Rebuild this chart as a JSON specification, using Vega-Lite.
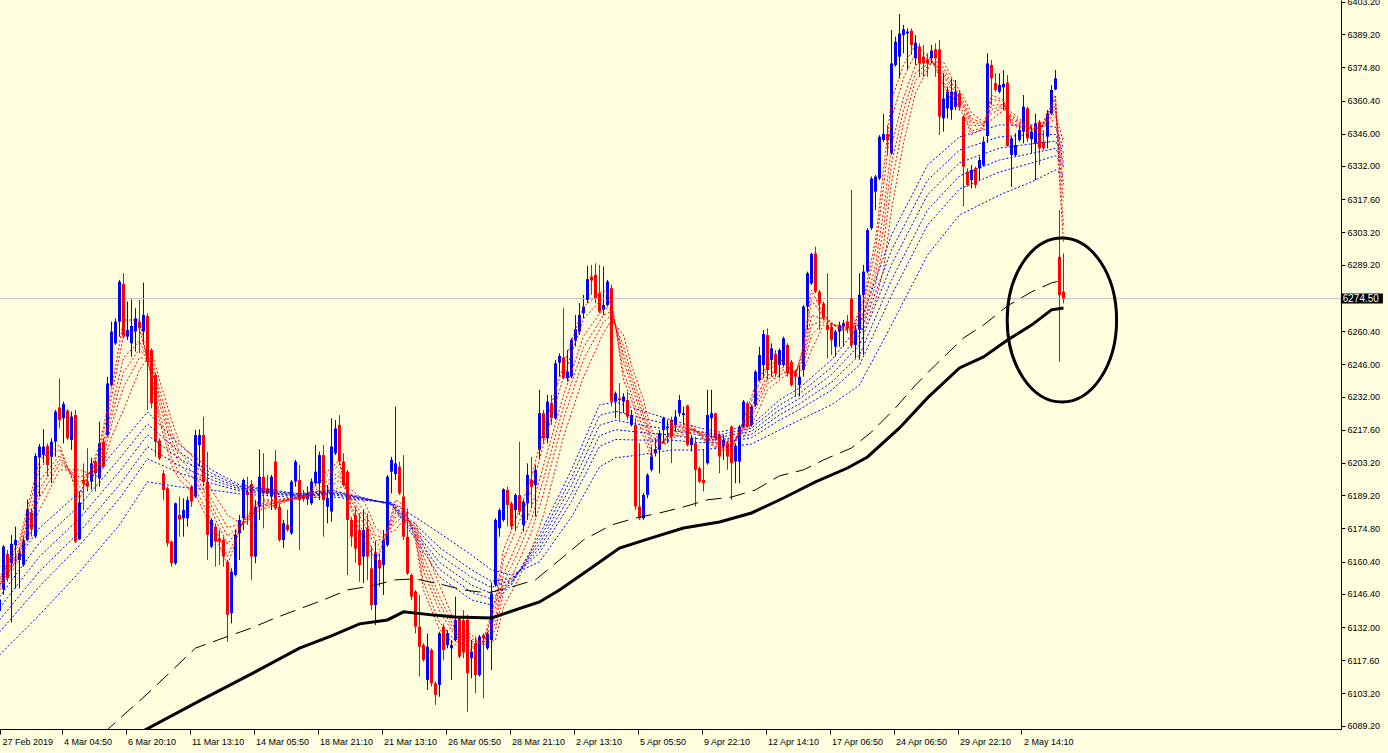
{
"$schema":"https://vega.github.io/schema/vega-lite/v6.json",
"width":1341,"height":729,
"autosize":{"type":"none"},
"padding":{"left":0,"top":0,"right":47,"bottom":24},
"background":"#FFFFE0",
"config":{"view":{"stroke":null},"axis":{"labelOverlap":false},"scale":{"continuousPadding":0}},
"datasets":{
"c":[
{"i":-1,"o":6139.0,"h":6146.0,"l":6137.0,"c":6144.0},
{"i":0,"o":6148.4,"h":6167.6,"l":6146.0,"c":6166.9},
{"i":1,"o":6163.7,"h":6165.5,"l":6151.7,"c":6153.2},
{"i":2,"o":6159.7,"h":6172.0,"l":6134.0,"c":6168.1},
{"i":3,"o":6167.6,"h":6175.6,"l":6148.8,"c":6169.8},
{"i":4,"o":6161.1,"h":6166.2,"l":6148.8,"c":6164.0},
{"i":5,"o":6159.0,"h":6171.3,"l":6158.2,"c":6169.5},
{"i":6,"o":6169.8,"h":6187.4,"l":6169.1,"c":6183.1},
{"i":7,"o":6181.6,"h":6183.5,"l":6171.3,"c":6174.4},
{"i":8,"o":6171.3,"h":6207.4,"l":6170.5,"c":6206.2},
{"i":9,"o":6205.6,"h":6211.4,"l":6188.6,"c":6210.3},
{"i":10,"o":6206.7,"h":6217.8,"l":6203.0,"c":6210.3},
{"i":11,"o":6210.6,"h":6211.7,"l":6197.3,"c":6202.3},
{"i":12,"o":6205.9,"h":6213.9,"l":6194.4,"c":6212.4},
{"i":13,"o":6212.4,"h":6226.2,"l":6205.9,"c":6225.5},
{"i":14,"o":6227.2,"h":6239.9,"l":6218.2,"c":6221.8},
{"i":15,"o":6222.6,"h":6229.8,"l":6211.7,"c":6228.8},
{"i":16,"o":6225.9,"h":6226.5,"l":6213.2,"c":6213.9},
{"i":17,"o":6213.2,"h":6225.5,"l":6208.8,"c":6223.3},
{"i":18,"o":6224.0,"h":6226.2,"l":6168.4,"c":6169.1},
{"i":19,"o":6170.1,"h":6190.8,"l":6169.8,"c":6186.0},
{"i":20,"o":6195.8,"h":6203.0,"l":6182.8,"c":6194.4},
{"i":21,"o":6194.7,"h":6209.6,"l":6190.8,"c":6192.9},
{"i":22,"o":6195.1,"h":6205.5,"l":6191.5,"c":6203.0},
{"i":23,"o":6203.8,"h":6204.5,"l":6190.8,"c":6198.7},
{"i":24,"o":6196.5,"h":6221.1,"l":6192.9,"c":6211.7},
{"i":25,"o":6212.4,"h":6213.9,"l":6200.9,"c":6201.6},
{"i":26,"o":6215.3,"h":6240.6,"l":6214.6,"c":6237.7},
{"i":27,"o":6237.0,"h":6264.5,"l":6236.3,"c":6260.2},
{"i":28,"o":6255.1,"h":6265.9,"l":6254.4,"c":6264.5},
{"i":29,"o":6264.5,"h":6282.6,"l":6258.0,"c":6281.8},
{"i":30,"o":6280.8,"h":6285.5,"l":6257.3,"c":6258.0},
{"i":31,"o":6258.0,"h":6273.2,"l":6256.5,"c":6260.9},
{"i":32,"o":6255.1,"h":6274.2,"l":6249.3,"c":6262.6},
{"i":33,"o":6260.2,"h":6270.3,"l":6251.5,"c":6265.9},
{"i":34,"o":6264.5,"h":6273.9,"l":6250.8,"c":6261.6},
{"i":35,"o":6260.2,"h":6281.4,"l":6254.4,"c":6267.4},
{"i":36,"o":6266.9,"h":6268.1,"l":6226.2,"c":6247.1},
{"i":37,"o":6252.2,"h":6252.9,"l":6226.9,"c":6229.1},
{"i":38,"o":6241.4,"h":6242.1,"l":6205.9,"c":6212.4},
{"i":39,"o":6212.9,"h":6213.9,"l":6204.5,"c":6205.2},
{"i":40,"o":6198.7,"h":6200.2,"l":6187.1,"c":6191.5},
{"i":41,"o":6192.2,"h":6192.9,"l":6166.9,"c":6168.4},
{"i":42,"o":6169.1,"h":6169.5,"l":6158.2,"c":6159.7},
{"i":43,"o":6159.7,"h":6186.0,"l":6159.0,"c":6185.7},
{"i":44,"o":6180.6,"h":6188.6,"l":6171.2,"c":6178.7},
{"i":45,"o":6179.2,"h":6187.9,"l":6171.2,"c":6182.8},
{"i":46,"o":6179.2,"h":6188.6,"l":6175.6,"c":6187.1},
{"i":47,"o":6192.9,"h":6193.6,"l":6184.2,"c":6186.4},
{"i":48,"o":6188.6,"h":6217.5,"l":6188.0,"c":6215.3},
{"i":49,"o":6211.0,"h":6217.8,"l":6201.6,"c":6215.3},
{"i":50,"o":6215.3,"h":6223.3,"l":6193.0,"c":6195.0},
{"i":51,"o":6195.0,"h":6208.0,"l":6161.1,"c":6172.0},
{"i":52,"o":6166.9,"h":6179.2,"l":6166.2,"c":6178.5},
{"i":53,"o":6175.6,"h":6177.0,"l":6158.2,"c":6169.1},
{"i":54,"o":6170.5,"h":6174.1,"l":6158.9,"c":6169.1},
{"i":55,"o":6169.8,"h":6171.2,"l":6158.2,"c":6162.6},
{"i":56,"o":6160.4,"h":6161.1,"l":6125.7,"c":6137.3},
{"i":57,"o":6138.0,"h":6157.5,"l":6133.6,"c":6156.0},
{"i":58,"o":6154.6,"h":6174.1,"l":6153.9,"c":6172.0},
{"i":59,"o":6172.7,"h":6180.6,"l":6161.1,"c":6178.5},
{"i":60,"o":6179.2,"h":6196.5,"l":6174.1,"c":6195.8},
{"i":61,"o":6190.7,"h":6197.2,"l":6176.3,"c":6189.3},
{"i":62,"o":6194.1,"h":6195.8,"l":6152.4,"c":6162.6},
{"i":63,"o":6162.6,"h":6187.1,"l":6159.7,"c":6184.2},
{"i":64,"o":6184.2,"h":6209.1,"l":6178.5,"c":6197.2},
{"i":65,"o":6197.2,"h":6207.4,"l":6174.8,"c":6190.0},
{"i":66,"o":6192.2,"h":6198.0,"l":6189.3,"c":6190.0},
{"i":67,"o":6188.6,"h":6198.0,"l":6182.8,"c":6197.2},
{"i":68,"o":6203.8,"h":6208.8,"l":6182.8,"c":6183.5},
{"i":69,"o":6184.2,"h":6185.7,"l":6169.1,"c":6169.8},
{"i":70,"o":6169.8,"h":6178.5,"l":6166.2,"c":6177.0},
{"i":71,"o":6176.3,"h":6182.8,"l":6173.4,"c":6174.1},
{"i":72,"o":6172.7,"h":6195.8,"l":6172.0,"c":6195.1},
{"i":73,"o":6195.1,"h":6204.5,"l":6192.9,"c":6203.8},
{"i":74,"o":6195.8,"h":6202.3,"l":6165.4,"c":6187.1},
{"i":75,"o":6188.6,"h":6191.5,"l":6186.4,"c":6187.5},
{"i":76,"o":6187.5,"h":6193.0,"l":6185.0,"c":6190.0},
{"i":77,"o":6185.7,"h":6196.5,"l":6185.0,"c":6195.1},
{"i":78,"o":6194.4,"h":6211.0,"l":6193.6,"c":6199.4},
{"i":79,"o":6194.4,"h":6208.1,"l":6187.1,"c":6206.6},
{"i":80,"o":6206.6,"h":6211.0,"l":6171.2,"c":6187.1},
{"i":81,"o":6184.2,"h":6193.6,"l":6177.0,"c":6187.9},
{"i":82,"o":6182.1,"h":6222.5,"l":6177.7,"c":6210.3},
{"i":83,"o":6207.4,"h":6221.8,"l":6206.6,"c":6218.2},
{"i":84,"o":6219.7,"h":6224.0,"l":6202.3,"c":6203.8},
{"i":85,"o":6203.8,"h":6207.4,"l":6192.9,"c":6193.6},
{"i":86,"o":6199.4,"h":6200.1,"l":6154.6,"c":6178.5},
{"i":87,"o":6178.5,"h":6179.9,"l":6166.9,"c":6171.2},
{"i":88,"o":6180.6,"h":6184.2,"l":6160.0,"c":6166.0},
{"i":89,"o":6174.1,"h":6181.3,"l":6151.7,"c":6158.9},
{"i":90,"o":6162.6,"h":6182.8,"l":6151.0,"c":6174.1},
{"i":91,"o":6174.8,"h":6181.3,"l":6152.4,"c":6162.6},
{"i":92,"o":6157.5,"h":6166.9,"l":6139.4,"c":6141.6},
{"i":93,"o":6141.6,"h":6169.1,"l":6132.9,"c":6164.0},
{"i":94,"o":6161.1,"h":6164.0,"l":6149.5,"c":6157.5},
{"i":95,"o":6158.9,"h":6174.1,"l":6145.9,"c":6169.8},
{"i":96,"o":6167.6,"h":6198.0,"l":6166.9,"c":6197.2},
{"i":97,"o":6199.4,"h":6205.9,"l":6190.0,"c":6204.5},
{"i":98,"o":6198.4,"h":6227.6,"l":6195.8,"c":6203.0},
{"i":99,"o":6201.6,"h":6203.8,"l":6189.3,"c":6190.0},
{"i":100,"o":6188.6,"h":6206.6,"l":6169.8,"c":6171.2},
{"i":101,"o":6171.2,"h":6183.5,"l":6154.6,"c":6155.3},
{"i":102,"o":6154.6,"h":6155.3,"l":6143.8,"c":6145.2},
{"i":103,"o":6147.4,"h":6148.1,"l":6129.3,"c":6132.2},
{"i":104,"o":6132.2,"h":6145.9,"l":6110.5,"c":6123.5},
{"i":105,"o":6124.2,"h":6125.0,"l":6117.0,"c":6117.7},
{"i":106,"o":6109.1,"h":6129.3,"l":6104.7,"c":6123.5},
{"i":107,"o":6122.1,"h":6122.8,"l":6106.2,"c":6107.6},
{"i":108,"o":6107.6,"h":6108.3,"l":6098.2,"c":6102.6},
{"i":109,"o":6106.9,"h":6130.0,"l":6101.8,"c":6129.3},
{"i":110,"o":6132.2,"h":6133.6,"l":6117.7,"c":6122.1},
{"i":111,"o":6124.2,"h":6130.7,"l":6122.8,"c":6129.3},
{"i":112,"o":6122.8,"h":6126.4,"l":6109.1,"c":6124.2},
{"i":113,"o":6126.4,"h":6145.2,"l":6125.7,"c":6135.1},
{"i":114,"o":6135.8,"h":6136.5,"l":6118.5,"c":6119.2},
{"i":115,"o":6135.0,"h":6139.4,"l":6118.5,"c":6121.0},
{"i":116,"o":6135.1,"h":6137.3,"l":6095.3,"c":6112.0},
{"i":117,"o":6118.5,"h":6126.4,"l":6109.8,"c":6121.4},
{"i":118,"o":6125.0,"h":6127.9,"l":6103.3,"c":6111.2},
{"i":119,"o":6111.2,"h":6128.6,"l":6110.5,"c":6127.9},
{"i":120,"o":6128.6,"h":6129.3,"l":6101.1,"c":6127.1},
{"i":121,"o":6122.8,"h":6130.0,"l":6122.1,"c":6129.3},
{"i":122,"o":6126.4,"h":6151.3,"l":6113.4,"c":6146.6},
{"i":123,"o":6150.3,"h":6179.2,"l":6149.5,"c":6178.5},
{"i":124,"o":6174.8,"h":6183.5,"l":6171.2,"c":6182.8},
{"i":125,"o":6178.5,"h":6192.2,"l":6177.7,"c":6191.8},
{"i":126,"o":6191.5,"h":6192.9,"l":6175.6,"c":6185.0},
{"i":127,"o":6185.7,"h":6186.4,"l":6174.1,"c":6175.6},
{"i":128,"o":6182.8,"h":6190.0,"l":6174.1,"c":6189.3},
{"i":129,"o":6189.3,"h":6212.4,"l":6180.6,"c":6182.1},
{"i":130,"o":6176.3,"h":6187.1,"l":6173.4,"c":6186.4},
{"i":131,"o":6185.7,"h":6203.0,"l":6178.5,"c":6198.0},
{"i":132,"o":6195.8,"h":6205.9,"l":6183.5,"c":6192.9},
{"i":133,"o":6193.6,"h":6202.3,"l":6179.9,"c":6200.1},
{"i":134,"o":6208.9,"h":6234.9,"l":6205.0,"c":6224.8},
{"i":135,"o":6224.8,"h":6226.2,"l":6211.7,"c":6213.9},
{"i":136,"o":6213.9,"h":6232.7,"l":6211.7,"c":6229.8},
{"i":137,"o":6229.1,"h":6232.7,"l":6219.7,"c":6222.6},
{"i":138,"o":6222.6,"h":6247.9,"l":6222.0,"c":6246.4},
{"i":139,"o":6246.7,"h":6250.8,"l":6240.7,"c":6249.6},
{"i":140,"o":6249.0,"h":6270.3,"l":6239.5,"c":6240.0},
{"i":141,"o":6239.9,"h":6252.2,"l":6238.5,"c":6242.8},
{"i":142,"o":6240.7,"h":6257.3,"l":6239.9,"c":6256.6},
{"i":143,"o":6256.3,"h":6267.4,"l":6253.7,"c":6261.2},
{"i":144,"o":6260.2,"h":6272.5,"l":6258.7,"c":6267.4},
{"i":145,"o":6268.1,"h":6276.1,"l":6266.0,"c":6271.0},
{"i":146,"o":6273.9,"h":6288.7,"l":6272.5,"c":6282.9},
{"i":147,"o":6284.0,"h":6289.1,"l":6276.1,"c":6282.3},
{"i":148,"o":6284.8,"h":6289.8,"l":6272.5,"c":6274.6},
{"i":149,"o":6276.8,"h":6289.1,"l":6268.1,"c":6268.9},
{"i":150,"o":6269.6,"h":6288.4,"l":6267.4,"c":6271.7},
{"i":151,"o":6271.7,"h":6282.6,"l":6271.0,"c":6281.9},
{"i":152,"o":6279.0,"h":6280.4,"l":6227.7,"c":6229.8},
{"i":153,"o":6229.8,"h":6234.2,"l":6222.6,"c":6233.4},
{"i":154,"o":6231.3,"h":6237.8,"l":6221.9,"c":6230.5},
{"i":155,"o":6229.8,"h":6233.4,"l":6224.8,"c":6232.0},
{"i":156,"o":6230.5,"h":6234.2,"l":6221.9,"c":6223.3},
{"i":157,"o":6219.7,"h":6226.2,"l":6219.0,"c":6224.0},
{"i":158,"o":6219.7,"h":6222.6,"l":6182.8,"c":6184.3},
{"i":159,"o":6184.3,"h":6211.7,"l":6178.5,"c":6179.2},
{"i":160,"o":6179.2,"h":6190.1,"l":6178.5,"c":6189.3},
{"i":161,"o":6189.3,"h":6198.7,"l":6187.9,"c":6198.0},
{"i":162,"o":6200.2,"h":6210.3,"l":6199.5,"c":6206.0},
{"i":163,"o":6207.4,"h":6213.9,"l":6206.0,"c":6209.1},
{"i":164,"o":6208.9,"h":6217.5,"l":6198.7,"c":6216.1},
{"i":165,"o":6217.5,"h":6223.3,"l":6211.7,"c":6222.6},
{"i":166,"o":6218.3,"h":6221.9,"l":6211.7,"c":6219.0},
{"i":167,"o":6221.9,"h":6223.3,"l":6203.1,"c":6214.6},
{"i":168,"o":6219.7,"h":6226.2,"l":6216.8,"c":6223.3},
{"i":169,"o":6224.8,"h":6232.7,"l":6223.3,"c":6230.5},
{"i":170,"o":6224.0,"h":6227.7,"l":6219.7,"c":6224.8},
{"i":171,"o":6228.1,"h":6228.4,"l":6210.3,"c":6211.0},
{"i":172,"o":6211.0,"h":6215.4,"l":6208.1,"c":6213.9},
{"i":173,"o":6211.7,"h":6214.6,"l":6184.3,"c":6200.2},
{"i":174,"o":6200.9,"h":6201.6,"l":6194.4,"c":6195.1},
{"i":175,"o":6195.8,"h":6208.9,"l":6190.8,"c":6194.4},
{"i":176,"o":6203.1,"h":6234.9,"l":6202.4,"c":6224.0},
{"i":177,"o":6222.6,"h":6234.9,"l":6213.9,"c":6224.8},
{"i":178,"o":6224.7,"h":6225.0,"l":6213.2,"c":6213.9},
{"i":179,"o":6215.4,"h":6216.1,"l":6198.7,"c":6206.0},
{"i":180,"o":6210.3,"h":6215.4,"l":6204.5,"c":6213.2},
{"i":181,"o":6211.7,"h":6212.4,"l":6200.2,"c":6206.0},
{"i":182,"o":6219.0,"h":6219.5,"l":6187.1,"c":6203.1},
{"i":183,"o":6203.8,"h":6211.7,"l":6194.4,"c":6210.6},
{"i":184,"o":6203.8,"h":6219.7,"l":6194.4,"c":6219.0},
{"i":185,"o":6219.0,"h":6230.5,"l":6218.3,"c":6229.8},
{"i":186,"o":6229.1,"h":6229.8,"l":6218.3,"c":6219.0},
{"i":187,"o":6219.7,"h":6228.4,"l":6219.0,"c":6227.6},
{"i":188,"o":6228.4,"h":6243.5,"l":6227.6,"c":6242.8},
{"i":189,"o":6239.2,"h":6253.6,"l":6238.5,"c":6250.0},
{"i":190,"o":6245.7,"h":6260.9,"l":6240.0,"c":6259.1},
{"i":191,"o":6258.7,"h":6261.6,"l":6239.2,"c":6243.5},
{"i":192,"o":6247.9,"h":6255.1,"l":6240.6,"c":6252.9},
{"i":193,"o":6250.5,"h":6252.2,"l":6240.6,"c":6242.1},
{"i":194,"o":6245.7,"h":6252.9,"l":6240.0,"c":6252.2},
{"i":195,"o":6245.7,"h":6258.0,"l":6245.0,"c":6257.3},
{"i":196,"o":6254.4,"h":6255.1,"l":6240.6,"c":6242.1},
{"i":197,"o":6247.1,"h":6247.9,"l":6236.3,"c":6237.0},
{"i":198,"o":6242.1,"h":6243.5,"l":6232.0,"c":6240.6},
{"i":199,"o":6237.0,"h":6245.7,"l":6232.0,"c":6240.6},
{"i":200,"o":6243.5,"h":6271.7,"l":6240.6,"c":6271.0},
{"i":201,"o":6271.0,"h":6286.2,"l":6260.9,"c":6285.5},
{"i":202,"o":6281.1,"h":6294.4,"l":6280.4,"c":6293.8},
{"i":203,"o":6294.1,"h":6297.0,"l":6276.8,"c":6277.5},
{"i":204,"o":6277.5,"h":6278.2,"l":6260.9,"c":6272.4},
{"i":205,"o":6272.4,"h":6273.2,"l":6265.2,"c":6265.9},
{"i":206,"o":6263.0,"h":6285.5,"l":6248.6,"c":6260.9},
{"i":207,"o":6262.3,"h":6263.8,"l":6250.0,"c":6256.5},
{"i":208,"o":6253.6,"h":6260.9,"l":6249.3,"c":6260.2},
{"i":209,"o":6260.2,"h":6264.5,"l":6253.6,"c":6263.0},
{"i":210,"o":6262.3,"h":6265.2,"l":6253.6,"c":6263.8},
{"i":211,"o":6264.5,"h":6267.4,"l":6259.4,"c":6261.6},
{"i":212,"o":6274.6,"h":6321.6,"l":6252.9,"c":6254.4},
{"i":213,"o":6254.4,"h":6263.0,"l":6248.6,"c":6260.9},
{"i":214,"o":6260.9,"h":6285.5,"l":6247.9,"c":6276.1},
{"i":215,"o":6276.0,"h":6289.1,"l":6250.0,"c":6286.2},
{"i":216,"o":6286.2,"h":6305.0,"l":6285.5,"c":6304.2},
{"i":217,"o":6305.0,"h":6327.4,"l":6304.2,"c":6326.6},
{"i":218,"o":6320.9,"h":6328.1,"l":6312.9,"c":6327.4},
{"i":219,"o":6326.6,"h":6345.4,"l":6325.9,"c":6344.7},
{"i":220,"o":6343.3,"h":6354.6,"l":6342.5,"c":6345.9},
{"i":221,"o":6345.9,"h":6349.8,"l":6336.8,"c":6343.3},
{"i":222,"o":6337.5,"h":6391.0,"l":6336.8,"c":6376.5},
{"i":223,"o":6375.8,"h":6388.1,"l":6375.1,"c":6385.9},
{"i":224,"o":6379.4,"h":6397.9,"l":6370.0,"c":6389.5},
{"i":225,"o":6388.8,"h":6393.2,"l":6380.9,"c":6391.3},
{"i":226,"o":6389.5,"h":6391.7,"l":6373.6,"c":6390.3},
{"i":227,"o":6390.7,"h":6391.7,"l":6380.2,"c":6384.5},
{"i":228,"o":6378.7,"h":6388.8,"l":6375.8,"c":6385.5},
{"i":229,"o":6383.8,"h":6385.2,"l":6370.7,"c":6376.5},
{"i":230,"o":6379.4,"h":6384.5,"l":6370.7,"c":6376.5},
{"i":231,"o":6378.3,"h":6380.9,"l":6370.7,"c":6376.5},
{"i":232,"o":6378.7,"h":6384.5,"l":6376.5,"c":6382.0},
{"i":233,"o":6382.6,"h":6385.2,"l":6370.7,"c":6378.7},
{"i":234,"o":6382.6,"h":6386.6,"l":6345.4,"c":6353.4},
{"i":235,"o":6352.7,"h":6372.2,"l":6346.9,"c":6361.3},
{"i":236,"o":6357.0,"h":6366.4,"l":6352.7,"c":6364.2},
{"i":237,"o":6356.3,"h":6370.0,"l":6352.0,"c":6364.2},
{"i":238,"o":6357.7,"h":6369.3,"l":6356.3,"c":6364.2},
{"i":239,"o":6363.5,"h":6365.0,"l":6356.3,"c":6357.7},
{"i":240,"o":6353.4,"h":6354.1,"l":6314.4,"c":6331.7},
{"i":241,"o":6329.5,"h":6331.0,"l":6323.0,"c":6323.8},
{"i":242,"o":6325.9,"h":6332.4,"l":6322.3,"c":6330.3},
{"i":243,"o":6331.0,"h":6331.7,"l":6322.3,"c":6323.8},
{"i":244,"o":6331.0,"h":6336.1,"l":6325.9,"c":6334.6},
{"i":245,"o":6332.4,"h":6344.7,"l":6331.7,"c":6342.5},
{"i":246,"o":6345.0,"h":6380.9,"l":6342.0,"c":6376.5},
{"i":247,"o":6375.8,"h":6378.0,"l":6358.5,"c":6370.0},
{"i":248,"o":6367.9,"h":6372.2,"l":6364.2,"c":6365.0},
{"i":249,"o":6364.2,"h":6372.2,"l":6363.5,"c":6367.1},
{"i":250,"o":6366.1,"h":6373.6,"l":6356.3,"c":6367.6},
{"i":251,"o":6368.2,"h":6371.5,"l":6340.4,"c":6340.7},
{"i":252,"o":6336.8,"h":6344.7,"l":6323.0,"c":6344.0},
{"i":253,"o":6336.8,"h":6346.2,"l":6336.1,"c":6341.1},
{"i":254,"o":6343.3,"h":6349.8,"l":6342.5,"c":6347.6},
{"i":255,"o":6346.9,"h":6362.8,"l":6341.8,"c":6357.7},
{"i":256,"o":6357.0,"h":6357.7,"l":6342.5,"c":6344.0},
{"i":257,"o":6343.6,"h":6349.1,"l":6337.5,"c":6346.9},
{"i":258,"o":6341.8,"h":6354.8,"l":6325.9,"c":6350.5},
{"i":259,"o":6351.2,"h":6352.0,"l":6332.4,"c":6339.7},
{"i":260,"o":6342.5,"h":6347.6,"l":6338.9,"c":6339.7},
{"i":261,"o":6344.7,"h":6356.3,"l":6339.7,"c":6354.8},
{"i":262,"o":6354.8,"h":6367.1,"l":6354.1,"c":6365.0},
{"i":263,"o":6365.2,"h":6373.6,"l":6364.9,"c":6370.0},
{"i":264,"o":6292.6,"h":6312.9,"l":6247.1,"c":6276.0},
{"i":265,"o":6277.5,"h":6294.1,"l":6272.4,"c":6274.5}
],
"r":[
{"i":-1,"r1":6153.3,"r2":6152.4,"r3":6151.1,"r4":6150.3,"r5":6149.4,"r6":6148.1},
{"i":4,"r1":6169.8,"r2":6168.3,"r3":6166.1,"r4":6164.8,"r5":6163.3,"r6":6161.1},
{"i":9,"r1":6204.5,"r2":6200.8,"r3":6195.4,"r4":6191.9,"r5":6188.2,"r6":6182.8},
{"i":14,"r1":6211.0,"r2":6209.2,"r3":6206.5,"r4":6204.7,"r5":6202.9,"r6":6200.2},
{"i":19,"r1":6187.2,"r2":6189.4,"r3":6192.7,"r4":6194.7,"r5":6197.0,"r6":6200.2},
{"i":24,"r1":6211.0,"r2":6208.6,"r3":6205.2,"r4":6202.9,"r5":6200.6,"r6":6197.1},
{"i":27,"r1":6234.9,"r2":6231.4,"r3":6226.3,"r4":6223.1,"r5":6219.6,"r6":6214.5},
{"i":30,"r1":6265.2,"r2":6258.6,"r3":6248.8,"r4":6242.6,"r5":6236.0,"r6":6226.2},
{"i":34,"r1":6265.2,"r2":6261.5,"r3":6256.1,"r4":6252.6,"r5":6248.9,"r6":6243.5},
{"i":37,"r1":6239.2,"r2":6241.3,"r3":6244.3,"r4":6246.2,"r5":6248.3,"r6":6251.3},
{"i":39,"r1":6221.8,"r2":6224.8,"r3":6229.1,"r4":6231.9,"r5":6234.9,"r6":6239.2},
{"i":42,"r1":6202.3,"r2":6205.6,"r3":6210.5,"r4":6213.6,"r5":6216.9,"r6":6221.8},
{"i":44,"r1":6195.8,"r2":6198.5,"r3":6202.6,"r4":6205.1,"r5":6207.9,"r6":6211.9},
{"i":48,"r1":6189.3,"r2":6191.9,"r3":6195.7,"r4":6198.1,"r5":6200.7,"r6":6204.5},
{"i":52,"r1":6175.4,"r2":6178.1,"r3":6182.2,"r4":6184.7,"r5":6187.5,"r6":6191.5},
{"i":56,"r1":6159.0,"r2":6162.7,"r3":6168.1,"r4":6171.5,"r5":6175.2,"r6":6180.6},
{"i":60,"r1":6178.5,"r2":6178.1,"r3":6177.6,"r4":6177.2,"r5":6176.9,"r6":6176.3},
{"i":64,"r1":6187.2,"r2":6186.5,"r3":6185.4,"r4":6184.6,"r5":6183.9,"r6":6182.8},
{"i":68,"r1":6187.2,"r2":6186.8,"r3":6186.3,"r4":6185.9,"r5":6185.6,"r6":6185.0},
{"i":72,"r1":6188.0,"r2":6187.9,"r3":6187.7,"r4":6187.5,"r5":6187.4,"r6":6187.2},
{"i":76,"r1":6189.3,"r2":6189.1,"r3":6188.9,"r4":6188.8,"r5":6188.6,"r6":6188.4},
{"i":80,"r1":6198.0,"r2":6196.4,"r3":6194.0,"r4":6192.4,"r5":6190.8,"r6":6188.4},
{"i":84,"r1":6204.5,"r2":6202.5,"r3":6199.6,"r4":6197.7,"r5":6195.7,"r6":6192.8},
{"i":87,"r1":6182.8,"r2":6184.3,"r3":6186.5,"r4":6187.8,"r5":6189.3,"r6":6191.5},
{"i":90,"r1":6169.8,"r2":6172.8,"r3":6177.1,"r4":6179.9,"r5":6182.9,"r6":6187.2},
{"i":93,"r1":6161.1,"r2":6163.5,"r3":6167.1,"r4":6169.4,"r5":6171.8,"r6":6175.4},
{"i":95,"r1":6167.6,"r2":6168.3,"r3":6169.4,"r4":6170.2,"r5":6170.9,"r6":6172.0},
{"i":98,"r1":6187.2,"r2":6185.0,"r3":6181.7,"r4":6179.6,"r5":6177.4,"r6":6174.1},
{"i":100,"r1":6185.0,"r2":6183.9,"r3":6182.3,"r4":6181.2,"r5":6180.1,"r6":6178.5},
{"i":103,"r1":6169.8,"r2":6171.1,"r3":6172.9,"r4":6174.1,"r5":6175.4,"r6":6177.2},
{"i":105,"r1":6148.1,"r2":6151.4,"r3":6156.3,"r4":6159.4,"r5":6162.7,"r6":6167.6},
{"i":109,"r1":6130.8,"r2":6134.1,"r3":6139.0,"r4":6142.1,"r5":6145.4,"r6":6150.3},
{"i":113,"r1":6124.3,"r2":6125.8,"r3":6127.9,"r4":6129.3,"r5":6130.8,"r6":6132.9},
{"i":117,"r1":6122.1,"r2":6123.2,"r3":6124.8,"r4":6125.9,"r5":6127.0,"r6":6128.6},
{"i":120,"r1":6126.4,"r2":6126.0,"r3":6125.5,"r4":6125.2,"r5":6124.8,"r6":6124.3},
{"i":123,"r1":6143.8,"r2":6140.8,"r3":6136.5,"r4":6133.7,"r5":6130.8,"r6":6126.4},
{"i":125,"r1":6165.5,"r2":6161.3,"r3":6155.1,"r4":6151.1,"r5":6146.9,"r6":6140.7},
{"i":129,"r1":6182.8,"r2":6177.9,"r3":6170.6,"r4":6166.0,"r5":6161.1,"r6":6153.8},
{"i":132,"r1":6197.1,"r2":6191.7,"r3":6183.8,"r4":6178.8,"r5":6173.4,"r6":6165.5},
{"i":135,"r1":6217.5,"r2":6211.2,"r3":6202.0,"r4":6196.1,"r5":6189.8,"r6":6180.6},
{"i":140,"r1":6245.7,"r2":6240.4,"r3":6232.6,"r4":6227.6,"r5":6222.3,"r6":6214.5},
{"i":145,"r1":6270.9,"r2":6265.7,"r3":6258.1,"r4":6253.3,"r5":6248.1,"r6":6240.5},
{"i":150,"r1":6278.2,"r2":6275.0,"r3":6270.4,"r4":6267.4,"r5":6264.3,"r6":6259.6},
{"i":152,"r1":6273.9,"r2":6272.4,"r3":6270.2,"r4":6268.9,"r5":6267.4,"r6":6265.2},
{"i":155,"r1":6239.2,"r2":6242.5,"r3":6247.4,"r4":6250.5,"r5":6253.8,"r6":6258.7},
{"i":157,"r1":6230.5,"r2":6233.1,"r3":6236.9,"r4":6239.3,"r5":6241.9,"r6":6245.7},
{"i":160,"r1":6214.5,"r2":6217.2,"r3":6221.2,"r4":6223.8,"r5":6226.5,"r6":6230.5},
{"i":162,"r1":6205.8,"r2":6207.8,"r3":6210.7,"r4":6212.6,"r5":6214.6,"r6":6217.5},
{"i":165,"r1":6213.2,"r2":6212.8,"r3":6212.3,"r4":6211.9,"r5":6211.6,"r6":6211.0},
{"i":168,"r1":6219.7,"r2":6218.8,"r3":6217.5,"r4":6216.7,"r5":6215.8,"r6":6214.5},
{"i":172,"r1":6219.7,"r2":6219.2,"r3":6218.4,"r4":6217.9,"r5":6217.4,"r6":6216.6},
{"i":175,"r1":6213.2,"r2":6213.8,"r3":6214.6,"r4":6215.2,"r5":6215.8,"r6":6216.6},
{"i":179,"r1":6208.8,"r2":6209.5,"r3":6210.6,"r4":6211.4,"r5":6212.1,"r6":6213.2},
{"i":182,"r1":6208.8,"r2":6209.5,"r3":6210.6,"r4":6211.4,"r5":6212.1,"r6":6213.2},
{"i":185,"r1":6221.8,"r2":6220.6,"r3":6218.7,"r4":6217.6,"r5":6216.3,"r6":6214.5},
{"i":188,"r1":6237.0,"r2":6234.6,"r3":6231.2,"r4":6228.9,"r5":6226.6,"r6":6223.1},
{"i":191,"r1":6245.7,"r2":6243.9,"r3":6241.2,"r4":6239.4,"r5":6237.6,"r6":6234.9},
{"i":195,"r1":6247.9,"r2":6246.6,"r3":6244.8,"r4":6243.6,"r5":6242.4,"r6":6240.5},
{"i":198,"r1":6241.4,"r2":6241.8,"r3":6242.3,"r4":6242.6,"r5":6243.0,"r6":6243.5},
{"i":200,"r1":6254.4,"r2":6252.5,"r3":6249.8,"r4":6248.1,"r5":6246.2,"r6":6243.5},
{"i":202,"r1":6278.2,"r2":6273.8,"r3":6267.3,"r4":6263.1,"r5":6258.7,"r6":6252.2},
{"i":205,"r1":6267.4,"r2":6266.7,"r3":6265.6,"r4":6264.8,"r5":6264.1,"r6":6263.0},
{"i":209,"r1":6260.9,"r2":6261.3,"r3":6261.8,"r4":6262.1,"r5":6262.5,"r6":6263.0},
{"i":212,"r1":6260.9,"r2":6261.0,"r3":6261.2,"r4":6261.4,"r5":6261.5,"r6":6261.7},
{"i":215,"r1":6273.9,"r2":6271.7,"r3":6268.4,"r4":6266.4,"r5":6264.2,"r6":6260.9},
{"i":218,"r1":6299.9,"r2":6295.5,"r3":6289.0,"r4":6284.8,"r5":6280.4,"r6":6273.9},
{"i":220,"r1":6330.3,"r2":6322.9,"r3":6312.1,"r4":6305.1,"r5":6297.8,"r6":6286.9},
{"i":222,"r1":6360.6,"r2":6352.5,"r3":6340.6,"r4":6332.9,"r5":6324.8,"r6":6312.9},
{"i":225,"r1":6375.8,"r2":6370.1,"r3":6361.6,"r4":6356.2,"r5":6350.5,"r6":6342.0},
{"i":228,"r1":6384.5,"r2":6381.0,"r3":6375.8,"r4":6372.4,"r5":6368.9,"r6":6363.7},
{"i":232,"r1":6378.0,"r2":6377.8,"r3":6377.6,"r4":6377.5,"r5":6377.3,"r6":6377.1},
{"i":235,"r1":6367.1,"r2":6368.8,"r3":6371.3,"r4":6372.9,"r5":6374.6,"r6":6377.1},
{"i":237,"r1":6360.6,"r2":6362.3,"r3":6364.8,"r4":6366.4,"r5":6368.1,"r6":6370.6},
{"i":240,"r1":6354.1,"r2":6355.4,"r3":6357.4,"r4":6358.6,"r5":6360.0,"r6":6361.9},
{"i":242,"r1":6345.5,"r2":6347.1,"r3":6349.5,"r4":6351.0,"r5":6352.6,"r6":6355.0},
{"i":245,"r1":6348.5,"r2":6348.9,"r3":6349.6,"r4":6350.0,"r5":6350.5,"r6":6351.1},
{"i":247,"r1":6362.8,"r2":6361.0,"r3":6358.3,"r4":6356.5,"r5":6354.7,"r6":6352.0},
{"i":250,"r1":6360.6,"r2":6359.9,"r3":6358.8,"r4":6358.1,"r5":6357.4,"r6":6356.3},
{"i":252,"r1":6349.8,"r2":6350.8,"r3":6352.2,"r4":6353.0,"r5":6354.0,"r6":6355.4},
{"i":256,"r1":6347.6,"r2":6348.0,"r3":6348.5,"r4":6348.9,"r5":6349.3,"r6":6349.8},
{"i":259,"r1":6347.6,"r2":6347.8,"r3":6348.0,"r4":6348.1,"r5":6348.3,"r6":6348.5},
{"i":262,"r1":6358.5,"r2":6357.2,"r3":6355.4,"r4":6354.2,"r5":6353.0,"r6":6351.1},
{"i":263,"r1":6362.8,"r2":6361.2,"r3":6358.8,"r4":6357.3,"r5":6355.7,"r6":6353.3},
{"i":264,"r1":6325.9,"r2":6329.7,"r3":6335.4,"r4":6339.0,"r5":6342.9,"r6":6348.5},
{"i":265,"r1":6298.6,"r2":6306.0,"r3":6317.0,"r4":6324.0,"r5":6331.5,"r6":6342.4}
],
"b":[
{"i":-1,"b1":6150.3,"b2":6145.1,"b3":6140.3,"b4":6135.1,"b5":6129.9,"b6":6119.9},
{"i":9,"b1":6175.0,"b2":6168.6,"b3":6162.6,"b4":6156.2,"b5":6149.7,"b6":6137.3},
{"i":19,"b1":6190.6,"b2":6184.7,"b3":6179.1,"b4":6173.3,"b5":6167.4,"b6":6155.9},
{"i":29,"b1":6211.0,"b2":6205.1,"b3":6199.5,"b4":6193.7,"b5":6187.8,"b6":6176.3},
{"i":36,"b1":6225.3,"b2":6220.1,"b3":6215.3,"b4":6210.2,"b5":6205.0,"b6":6195.0},
{"i":44,"b1":6211.0,"b2":6207.9,"b3":6205.0,"b4":6201.9,"b5":6198.8,"b6":6192.8},
{"i":52,"b1":6200.2,"b2":6198.7,"b3":6197.3,"b4":6195.9,"b5":6194.4,"b6":6191.5},
{"i":59,"b1":6193.7,"b2":6193.0,"b3":6192.4,"b4":6191.8,"b5":6191.1,"b6":6189.8},
{"i":67,"b1":6191.5,"b2":6191.1,"b3":6190.6,"b4":6190.2,"b5":6189.8,"b6":6188.9},
{"i":74,"b1":6189.8,"b2":6189.5,"b3":6189.2,"b4":6188.9,"b5":6188.6,"b6":6188.0},
{"i":82,"b1":6191.5,"b2":6191.0,"b3":6190.5,"b4":6190.0,"b5":6189.5,"b6":6188.5},
{"i":89,"b1":6188.5,"b2":6188.3,"b3":6188.1,"b4":6187.9,"b5":6187.6,"b6":6187.2},
{"i":97,"b1":6185.0,"b2":6185.2,"b3":6185.4,"b4":6185.6,"b5":6185.8,"b6":6186.0},
{"i":104,"b1":6167.6,"b2":6169.5,"b3":6171.2,"b4":6173.1,"b5":6174.9,"b6":6178.5},
{"i":109,"b1":6153.8,"b2":6157.0,"b3":6160.1,"b4":6163.3,"b5":6166.5,"b6":6172.8},
{"i":117,"b1":6143.8,"b2":6147.1,"b3":6150.2,"b4":6153.6,"b5":6156.9,"b6":6163.3},
{"i":122,"b1":6141.6,"b2":6144.2,"b3":6146.6,"b4":6149.2,"b5":6151.8,"b6":6156.8},
{"i":127,"b1":6150.3,"b2":6151.0,"b3":6151.7,"b4":6152.5,"b5":6153.2,"b6":6154.6},
{"i":134,"b1":6172.0,"b2":6170.0,"b3":6168.1,"b4":6166.2,"b5":6164.2,"b6":6160.3},
{"i":142,"b1":6200.2,"b2":6196.7,"b3":6193.5,"b4":6190.0,"b5":6186.5,"b6":6179.8},
{"i":149,"b1":6228.4,"b2":6223.8,"b3":6219.5,"b4":6215.0,"b5":6210.4,"b6":6201.5},
{"i":153,"b1":6229.7,"b2":6225.6,"b3":6221.7,"b4":6217.6,"b5":6213.4,"b6":6205.4},
{"i":159,"b1":6226.2,"b2":6222.9,"b3":6219.8,"b4":6216.5,"b5":6213.1,"b6":6206.7},
{"i":167,"b1":6221.8,"b2":6219.6,"b3":6217.5,"b4":6215.3,"b5":6213.1,"b6":6208.8},
{"i":174,"b1":6218.4,"b2":6216.8,"b3":6215.2,"b4":6213.6,"b5":6212.0,"b6":6208.8},
{"i":179,"b1":6216.6,"b2":6215.4,"b3":6214.3,"b4":6213.2,"b5":6212.0,"b6":6209.7},
{"i":187,"b1":6219.7,"b2":6218.3,"b3":6217.0,"b4":6215.6,"b5":6214.1,"b6":6211.4},
{"i":194,"b1":6230.5,"b2":6228.3,"b3":6226.2,"b4":6224.0,"b5":6221.8,"b6":6217.5},
{"i":199,"b1":6235.7,"b2":6233.3,"b3":6231.1,"b4":6228.8,"b5":6226.4,"b6":6221.8},
{"i":207,"b1":6247.9,"b2":6244.6,"b3":6241.5,"b4":6238.2,"b5":6234.8,"b6":6228.4},
{"i":214,"b1":6263.0,"b2":6258.6,"b3":6254.4,"b4":6250.0,"b5":6245.6,"b6":6237.0},
{"i":222,"b1":6302.1,"b2":6295.5,"b3":6289.2,"b4":6282.6,"b5":6275.9,"b6":6263.0},
{"i":231,"b1":6332.4,"b2":6325.8,"b3":6319.5,"b4":6312.9,"b5":6306.3,"b6":6293.4},
{"i":239,"b1":6344.6,"b2":6338.9,"b3":6333.4,"b4":6327.7,"b5":6322.0,"b6":6310.8},
{"i":249,"b1":6349.8,"b2":6344.6,"b3":6339.8,"b4":6334.6,"b5":6329.4,"b6":6319.4},
{"i":257,"b1":6349.8,"b2":6345.6,"b3":6341.6,"b4":6337.5,"b5":6333.3,"b6":6325.1},
{"i":263,"b1":6348.9,"b2":6345.7,"b3":6342.8,"b4":6339.6,"b5":6336.4,"b6":6330.3},
{"i":265,"b1":6339.8,"b2":6337.8,"b3":6335.9,"b4":6334.0,"b5":6332.0,"b6":6328.1}
],
"kd":[
{"i":25,"v":6086.0},{"i":37,"v":6104.7},{"i":48,"v":6122.9},{"i":55,"v":6127.3},{"i":62,"v":6131.6},{"i":68,"v":6136.0},{"i":74,"v":6139.9},{"i":80,"v":6143.8},{"i":86,"v":6148.1},{"i":92,"v":6149.9},{"i":98,"v":6152.5},{"i":103,"v":6152.9},{"i":110,"v":6150.3},{"i":115,"v":6148.1},{"i":121,"v":6146.8},{"i":127,"v":6149.4},{"i":133,"v":6152.5},{"i":139,"v":6161.1},{"i":145,"v":6169.8},{"i":152,"v":6176.3},{"i":158,"v":6179.3},{"i":164,"v":6181.5},{"i":170,"v":6184.1},{"i":176,"v":6187.2},{"i":182,"v":6188.4},{"i":188,"v":6191.5},{"i":194,"v":6197.6},{"i":200,"v":6200.2},{"i":205,"v":6204.5},{"i":212,"v":6209.7},{"i":217,"v":6216.6},{"i":223,"v":6227.1},{"i":228,"v":6237.0},{"i":233,"v":6245.7},{"i":240,"v":6257.4},{"i":245,"v":6263.0},{"i":251,"v":6271.3},{"i":257,"v":6277.4},{"i":262,"v":6281.3},{"i":265,"v":6282.6}
],
"ks":[
{"i":34,"v":6086.1},{"i":49,"v":6100.0},{"i":62,"v":6111.7},{"i":74,"v":6122.9},{"i":82,"v":6128.2},{"i":89,"v":6133.4},{"i":96,"v":6135.1},{"i":100,"v":6138.6},{"i":107,"v":6137.3},{"i":113,"v":6136.4},{"i":122,"v":6136.0},{"i":134,"v":6142.9},{"i":139,"v":6148.1},{"i":147,"v":6157.7},{"i":154,"v":6166.3},{"i":162,"v":6170.7},{"i":170,"v":6175.0},{"i":179,"v":6177.6},{"i":187,"v":6181.5},{"i":195,"v":6188.0},{"i":203,"v":6195.0},{"i":211,"v":6201.0},{"i":216,"v":6205.8},{"i":224,"v":6218.4},{"i":231,"v":6231.4},{"i":239,"v":6244.4},{"i":245,"v":6249.2},{"i":251,"v":6256.5},{"i":257,"v":6263.0},{"i":262,"v":6269.6},{"i":265,"v":6270.4}
]
},
"layer":[
{
"data":{"name":"c"},
"mark":{"type":"rule","strokeWidth":1,"clip":true},
"encoding":{
"x":{"field":"i","type":"quantitative","title":null,"scale":{"domain":[-0.875,334.375],"nice":false,"zero":false,"padding":0},
"axis":{"orient":"bottom","title":null,"grid":false,"tickCount":60,"values":[-0.875,14.5,30.5,46.5,62.5,78.5,94.5,110.5,126.5,142.5,158.5,174.5,190.5,206.5,222.5,238.5,254.5],
"labelExpr":"['27 Feb 2019','4 Mar 04:50','6 Mar 20:10','11 Mar 13:10','14 Mar 05:50','18 Mar 21:10','21 Mar 13:10','26 Mar 05:50','28 Mar 21:10','2 Apr 13:10','5 Apr 05:50','9 Apr 22:10','12 Apr 14:10','17 Apr 06:50','24 Apr 06:50','29 Apr 22:10','2 May 14:10'][round((datum.value+1.5)/16)]",
"labelAlign":"left","labelBaseline":"top","labelOffset":2,"labelPadding":3,"labelFlush":false,"labelOverlap":false,"labelBound":false,
"tickSize":5,"tickColor":"#000000","domainColor":"#000000","labelColor":"#000000","labelFont":"Liberation Sans","labelFontSize":9}},
"y":{"field":"l","type":"quantitative","title":null,"scale":{"domain":[6087.8,6404.0],"nice":false,"zero":false,"padding":0},
"axis":{"orient":"right","title":null,"grid":false,"tickCount":60,"values":[6403.2,6389.2,6374.8,6360.4,6346.0,6332.0,6317.6,6303.2,6289.2,6260.4,6246.0,6232.0,6217.6,6203.2,6189.2,6174.8,6160.4,6146.4,6132.0,6117.6,6103.2,6089.2],
"format":".2f","labelFont":"Liberation Sans","labelFontSize":9,"labelColor":"#000000","tickSize":4,"tickColor":"#000000","domainColor":"#000000","labelPadding":2,"labelOverlap":false,"labelFlush":false,"labelBound":false}},
"y2":{"field":"h"},
"color":{"condition":{"test":"datum.c >= datum.o","value":"#0000FF"},"value":"#FF0000"}
}
},
{
"data":{"values":[{}]},
"mark":{"type":"rule","color":"#C0C0C0","strokeWidth":1},
"encoding":{"y":{"datum":6274.5,"type":"quantitative","scale":{"domain":[6087.8,6404.0],"nice":false,"zero":false,"padding":0}}}
},
{
"data":{"name":"c"},
"mark":{"type":"bar","width":3,"clip":true},
"encoding":{
"x":{"field":"i","type":"quantitative","title":null,"scale":{"domain":[-0.875,334.375],"nice":false,"zero":false,"padding":0}},
"y":{"field":"o","type":"quantitative","title":null,"scale":{"domain":[6087.8,6404.0],"nice":false,"zero":false,"padding":0}},
"y2":{"field":"c"},
"color":{"condition":{"test":"datum.c >= datum.o","value":"#0000FF"},"value":"#FF0000"}
}
},
{
"data":{"name":"b"},
"transform":[{"fold":["b1","b2","b3","b4","b5","b6"],"as":["s","v"]}],
"mark":{"type":"line","color":"#0000FF","strokeWidth":1,"strokeDash":[2,2],"clip":true},
"encoding":{
"x":{"field":"i","type":"quantitative","title":null,"scale":{"domain":[-0.875,334.375],"nice":false,"zero":false,"padding":0}},
"y":{"field":"v","type":"quantitative","title":null,"scale":{"domain":[6087.8,6404.0],"nice":false,"zero":false,"padding":0}},
"detail":{"field":"s","type":"nominal"}
}
},
{
"data":{"name":"r"},
"transform":[{"fold":["r1","r2","r3","r4","r5","r6"],"as":["s","v"]}],
"mark":{"type":"line","color":"#FF0000","strokeWidth":1,"strokeDash":[2,2],"clip":true},
"encoding":{
"x":{"field":"i","type":"quantitative","title":null,"scale":{"domain":[-0.875,334.375],"nice":false,"zero":false,"padding":0}},
"y":{"field":"v","type":"quantitative","title":null,"scale":{"domain":[6087.8,6404.0],"nice":false,"zero":false,"padding":0}},
"detail":{"field":"s","type":"nominal"}
}
},
{
"data":{"name":"kd"},
"mark":{"type":"line","color":"#000000","strokeWidth":1,"strokeDash":[16,8],"clip":true},
"encoding":{
"x":{"field":"i","type":"quantitative","title":null,"scale":{"domain":[-0.875,334.375],"nice":false,"zero":false,"padding":0}},
"y":{"field":"v","type":"quantitative","title":null,"scale":{"domain":[6087.8,6404.0],"nice":false,"zero":false,"padding":0}}
}
},
{
"data":{"name":"ks"},
"mark":{"type":"line","color":"#000000","strokeWidth":3,"clip":true},
"encoding":{
"x":{"field":"i","type":"quantitative","title":null,"scale":{"domain":[-0.875,334.375],"nice":false,"zero":false,"padding":0}},
"y":{"field":"v","type":"quantitative","title":null,"scale":{"domain":[6087.8,6404.0],"nice":false,"zero":false,"padding":0}}
}
},
{
"data":{"values":[{}]},
"mark":{"type":"point","shape":"M-0.667,0A0.667,1,0,1,1,0.667,0A0.667,1,0,1,1,-0.667,0Z","size":26896,"filled":false,"stroke":"#000000","strokeWidth":3,"opacity":1},
"encoding":{
"x":{"datum":264.6,"type":"quantitative","scale":{"domain":[-0.875,334.375],"nice":false,"zero":false,"padding":0}},
"y":{"datum":6265.2,"type":"quantitative","scale":{"domain":[6087.8,6404.0],"nice":false,"zero":false,"padding":0}}
}
},
{
"data":{"values":[{}]},
"mark":{"type":"point","shape":"M-1,-0.24L1,-0.24L1,0.24L-1,0.24Z","size":1764,"filled":true,"color":"#000000","opacity":1},
"encoding":{
"x":{"datum":339.6,"type":"quantitative","scale":{"domain":[-0.875,334.375],"nice":false,"zero":false,"padding":0}},
"y":{"datum":6274.5,"type":"quantitative","scale":{"domain":[6087.8,6404.0],"nice":false,"zero":false,"padding":0}}
}
},
{
"data":{"values":[{}]},
"mark":{"type":"text","text":"6274.50","color":"#FFFFFF","font":"Liberation Sans","fontSize":10,"align":"left","baseline":"middle"},
"encoding":{
"x":{"datum":334.8,"type":"quantitative","scale":{"domain":[-0.875,334.375],"nice":false,"zero":false,"padding":0}},
"y":{"datum":6274.5,"type":"quantitative","scale":{"domain":[6087.8,6404.0],"nice":false,"zero":false,"padding":0}}
}
}
]
}
